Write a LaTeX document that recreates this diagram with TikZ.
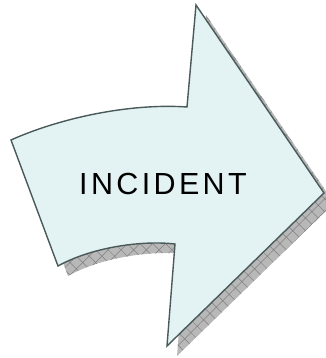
\documentclass[tikz,border=0pt]{standalone}
\usepackage{fontspec}
\setmainfont{Liberation Sans}
\usetikzlibrary{patterns.meta}
\definecolor{arrowfill}{HTML}{E3F3F3}
\definecolor{arrowline}{HTML}{4A5A5A}
\tikzset{
  arrowbody/.style={fill=arrowfill, draw=arrowline, line width=1.4pt, line join=miter},
  shadowbody/.style={fill=black!28},
  shadowhatch/.style={pattern={Hatch[angle=45,distance=9pt,line width=0.5pt]}, pattern color=black!50},
  label/.style={font=\fontsize{30.5}{34}\selectfont\addfontfeatures{LetterSpace=11}, text=black, inner sep=0pt}
}
\begin{document}
\begin{tikzpicture}[x=1pt,y=-1pt]
\useasboundingbox (0,0) rectangle (325,358);
\def\arrowpath{(11,140) .. controls (60,118) and (130,103) .. (187,107) -- (196,5) -- (324,193) -- (167,346) -- (175,244) .. controls (140,240) and (90,248) .. (58,266) -- cycle}
\begin{scope}[shift={(10,10)}]
  \fill[shadowbody] \arrowpath;
  \fill[shadowhatch] \arrowpath;
\end{scope}
\path[arrowbody] \arrowpath;
\node[label] (t) at (163,184) {INCIDENT};
\end{tikzpicture}
\end{document}
